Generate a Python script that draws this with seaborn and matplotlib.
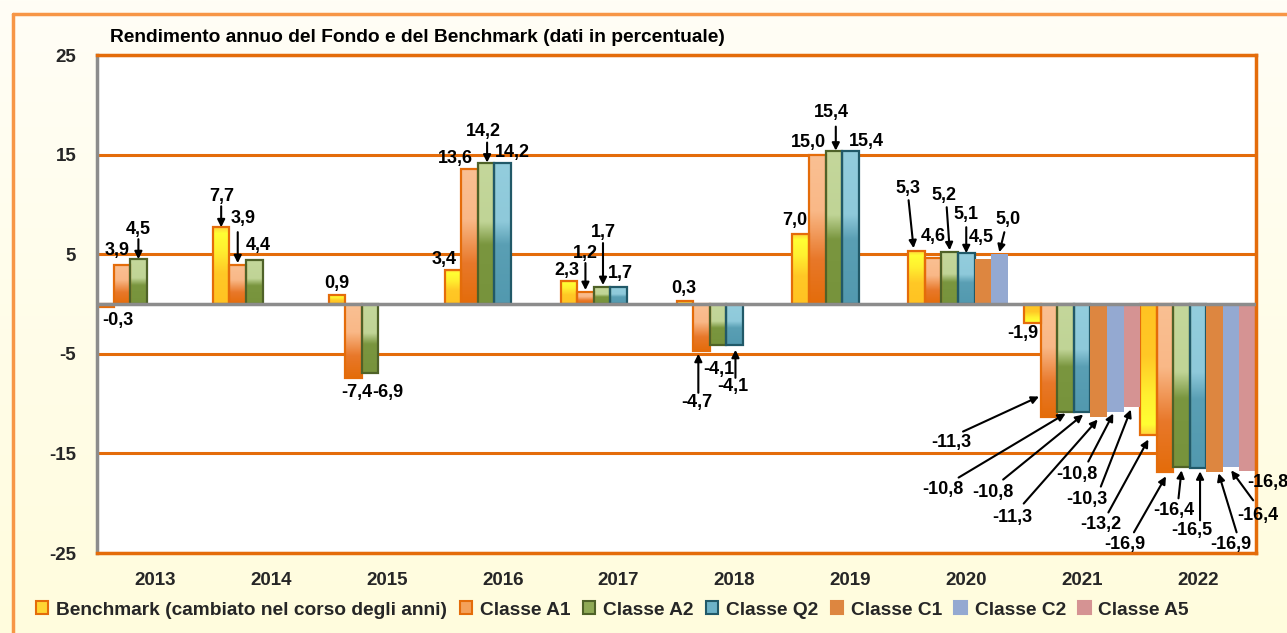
import numpy as np
import pandas as pd
import matplotlib
matplotlib.use("Agg")
import matplotlib.pyplot as plt
import seaborn as sns
from matplotlib.colors import to_rgb
from matplotlib.patches import Patch
from matplotlib.lines import Line2D

# ---------------- data ----------------
nan = np.nan
years = ["2013", "2014", "2015", "2016", "2017", "2018", "2019", "2020", "2021", "2022"]
series = ["Benchmark (cambiato nel corso degli anni)", "Classe A1", "Classe A2",
          "Classe Q2", "Classe C1", "Classe C2", "Classe A5"]
codes = ["B", "A1", "A2", "Q2", "C1", "C2", "A5"]
bench = [-0.3, 7.7, 0.9, 3.4, 2.3, 0.3, 7.0, 5.3, -1.9, -13.2]
a1 = [3.9, 3.9, -7.4, 13.6, 1.2, -4.7, 15.0, 4.6, -11.3, -16.9]
a2 = [4.5, 4.4, -6.9, 14.2, 1.7, -4.1, 15.4, 5.2, -10.8, -16.4]
q2 = [nan, nan, nan, 14.2, 1.7, -4.1, 15.4, 5.1, -10.8, -16.5]
c1 = [nan, nan, nan, nan, nan, nan, nan, 4.5, -11.3, -16.9]
c2 = [nan, nan, nan, nan, nan, nan, nan, 5.0, -10.8, -16.4]
a5 = [nan, nan, nan, nan, nan, nan, nan, nan, -10.3, -16.8]
title = "Rendimento annuo del Fondo e del Benchmark (dati in percentuale)"
yticks = [-25, -15, -5, 5, 15, 25]

# ---------------- style ----------------
ORANGE = "#E46C0A"
face = {"B": "#FFD633", "A1": "#F4A15A", "A2": "#8FAA55", "Q2": "#6DB3C8",
        "C1": "#DD8640", "C2": "#94A9D1", "A5": "#D59393"}
edge = {"B": ORANGE, "A1": ORANGE, "A2": "#4F6228", "Q2": "#215968",
        "C1": None, "C2": None, "A5": None}
# gradient stops (fraction from bar top, colour)
grads = {
    "B": [(0.0, "#FFD23C"), (0.08, "#FFFF33"), (0.3, "#FFF030"), (0.6, "#FFC826"), (1.0, "#FFC322")],
    "A1": [(0.0, "#FAC093"), (0.38, "#F9B887"), (0.7, "#E8782A"), (1.0, "#E46C0A")],
    "A2": [(0.0, "#C4D79B"), (0.42, "#C0D496"), (0.58, "#7A963F"), (1.0, "#77933C")],
    "Q2": [(0.0, "#93CDDD"), (0.42, "#8EC9DA"), (0.58, "#5A9FB4"), (1.0, "#5299AF")],
}

# annotation layout: (text dx, text dy, arrow (start dx, dy, tip dx, dy) or None), pixels from bar end
ann = {
    ("2013", "B"): (13, -14, None), ("2013", "A1"): (-5, 15, None),
    ("2013", "A2"): (0, 30, (0, 20, 0, 0)),
    ("2014", "B"): (1, 31, (0, 21, 0, 0)), ("2014", "A1"): (5, 47, (0, 33, 0, 2)),
    ("2014", "A2"): (4, 15, None),
    ("2015", "B"): (0, 12, None), ("2015", "A1"): (3, -15, None), ("2015", "A2"): (18, -20, None),
    ("2016", "B"): (-9, 11, None), ("2016", "A1"): (-14, 10, None),
    ("2016", "A2"): (-3, 31, (1, 20, 1, 0)), ("2016", "Q2"): (10, 10, None),
    ("2017", "B"): (-2, 11, None), ("2017", "A1"): (0, 39, (0, 29, 0, 2)),
    ("2017", "A2"): (1, 55, (1, 44, 1, 2)), ("2017", "Q2"): (2, 14, None),
    ("2018", "B"): (-1, 13, None), ("2018", "A1"): (-5, -52, (-3, -42, -3, -3)),
    ("2018", "A2"): (1, -25, None), ("2018", "Q2"): (-2, -42, (1, -33, 1, -5)),
    ("2019", "B"): (-6, 14, None), ("2019", "A1"): (-9, 12, None),
    ("2019", "A2"): (-2, 38, (2, 24, 2, 0)), ("2019", "Q2"): (16, 9, None),
    ("2020", "B"): (-9, 63, (-8, 51, -3, 3)), ("2020", "A1"): (0, 22, None),
    ("2020", "A2"): (-6, 57, (-3, 45, 0, 2)), ("2020", "Q2"): (0, 39, (0, 26, 0, 0)),
    ("2020", "C1"): (-2, 22, None), ("2020", "C2"): (9, 35, (5, 22, 0, 2)),
    ("2021", "B"): (-10, -11, None), ("2021", "A1"): (-98, -26, (-86, -15, -10, 20)),
    ("2021", "A2"): (-123, -78, (-107, -66, 0, -2)), ("2021", "Q2"): (-89, -81, (-79, -68, 1, -3)),
    ("2021", "C1"): (-86, -101, (-75, -87, -1, -3)), ("2021", "C2"): (-38, -63, (-27, -50, -2, -2)),
    ("2021", "A5"): (-45, -93, (-31, -80, -1, -3)),
    ("2022", "B"): (-48, -89, (-40, -77, 0, -4)), ("2022", "A1"): (-40, -72, (-31, -60, 1, -4)),
    ("2022", "A2"): (-8, -43, (-3, -31, 0, -3)), ("2022", "Q2"): (-6, -62, (2, -52, 2, -3)),
    ("2022", "C1"): (16, -72, (22, -60, 4, -1)), ("2022", "C2"): (27, -48, (22, -33, 0, -3)),
    ("2022", "A5"): (20, -11, None),
}

sns.set_theme(style="white")
plt.rcParams["font.family"] = ["Liberation Sans", "DejaVu Sans"]
plt.rcParams["font.weight"] = "bold"
plt.rcParams["axes.unicode_minus"] = False

rows = []
for s, vals in zip(series, [bench, a1, a2, q2, c1, c2, a5]):
    for y, v in zip(years, vals):
        if not np.isnan(v):
            rows.append((y, s, v))
df = pd.DataFrame(rows, columns=["Anno", "Serie", "Valore"])

W, H = 1287, 633
fig = plt.figure(figsize=(W / 100, H / 100), dpi=100)

# background gradient
bg = fig.add_axes([0, 0, 1, 1], zorder=-10)
c_top, c_bot = np.array(to_rgb("#FFFEF6")), np.array(to_rgb("#FFFCDD"))
t = np.linspace(0, 1, 256)[:, None, None]
bg.imshow(c_top + (c_bot - c_top) * t, aspect="auto", extent=[0, 1, 0, 1], origin="upper")
bg.set_axis_off()
# outer border (top + left)
fig.add_artist(Line2D([13 / W, 1.01], [1 - 14 / H, 1 - 14 / H], color="#F79646", lw=2.5))
fig.add_artist(Line2D([13 / W, 13 / W], [-0.01, 1 - 14 / H], color="#F79646", lw=2.5))

ax = fig.add_axes([97 / W, 1 - 553 / H, (1256 - 97) / W, (553 - 55) / H])
ax.set_facecolor("white")
sns.barplot(data=df, x="Anno", y="Valore", hue="Serie", order=years, hue_order=series,
            width=1.0, dodge=True, errorbar=None, palette=[face[c] for c in codes],
            saturation=1, legend=False, ax=ax)

ax.set_xlim(-0.5, len(years) - 0.5)
ax.set_ylim(-25, 25)
ax.set_yticks(yticks)
ax.set_axisbelow(True)
ax.grid(axis="y", color=ORANGE, lw=2.2)
ax.grid(axis="x", visible=False)
ax.set_xlabel("")
ax.set_ylabel("")
ax.tick_params(axis="y", length=0, pad=15, labelsize=13.5)
ax.tick_params(axis="x", length=0, pad=14, labelsize=13.5)
for lab in ax.get_xticklabels() + ax.get_yticklabels():
    lab.set_fontweight("bold")
for side in ["top", "right", "bottom"]:
    ax.spines[side].set_color(ORANGE)
    ax.spines[side].set_linewidth(2.5)
ax.spines["left"].set_color("#8C8C8C")
ax.spines["left"].set_linewidth(2.5)
ax.axhline(0, color="#8C8C8C", lw=2.5, zorder=4)

nser = len(series)


def gradient_image(stops, reverse, n=200):
    pos = np.array([p for p, _ in stops])
    cols = np.array([to_rgb(c) for _, c in stops])
    f = np.linspace(0, 1, n)
    if reverse:
        f = 1 - f
    img = np.stack([np.interp(f, pos, cols[:, j]) for j in range(3)], axis=-1)
    return img[:, None, :]


fig.canvas.draw()
bars_info = []
for cont in ax.containers:
    for bar in cont:
        x0, y0, w, h = bar.get_x(), bar.get_y(), bar.get_width(), bar.get_height()
        if np.isnan(h):
            continue
        xc = x0 + w / 2
        i = int(np.floor(xc + 0.5))
        k = int(round(((xc + 0.5) - i) * nser - 0.5))
        code = codes[k]
        ylo, yhi = min(y0, y0 + h), max(y0, y0 + h)
        val = yhi if yhi > 0 else ylo
        bars_info.append((i, code, xc, val))
        if code in grads:
            img = gradient_image(grads[code], reverse=(code == "B" and val < 0))
            im = ax.imshow(img, extent=[x0, x0 + w, ylo, yhi], aspect="auto",
                           origin="upper", zorder=1.5, interpolation="bilinear")
            im.set_clip_path(bar)
            bar.set_facecolor("none")
        if edge[code]:
            bar.set_edgecolor(edge[code])
            bar.set_linewidth(1.6)
        else:
            bar.set_linewidth(0)
        bar.set_zorder(2)

ax.set_xlim(-0.5, len(years) - 0.5)
ax.set_ylim(-25, 25)
ax.set_aspect("auto")
fig.canvas.draw()

arrowprops = dict(arrowstyle="-|>", color="black", lw=1.5, mutation_scale=11,
                  shrinkA=0, shrinkB=0)
for i, code, xc, val in bars_info:
    key = (years[i], code)
    if key not in ann:
        continue
    dx, dy, arrow = ann[key]
    px, py = ax.transData.transform((xc, val))
    label = f"{val:.1f}".replace(".", ",")
    fig.text((px + dx) / W, (py + dy) / H, label, ha="center", va="center",
             fontsize=13, fontweight="bold", color="black")
    if arrow:
        sx, sy, tx, ty = arrow
        ax.annotate("", xy=(px + tx, py + ty), xycoords="figure pixels",
                    xytext=(px + sx, py + sy), textcoords="figure pixels",
                    arrowprops=arrowprops, annotation_clip=False)

fig.text(110 / W, 1 - 38 / H, title, ha="left", va="center", fontsize=13.8,
         fontweight="bold", color="black")

handles = [Patch(facecolor=face[c], edgecolor=edge[c] if edge[c] else face[c], lw=1.5)
           for c in codes]
fig.legend(handles, series, loc="center left", bbox_to_anchor=(36 / W, 1 - 610 / H),
           ncol=7, frameon=False, handlelength=0.65, handleheight=0.65,
           handletextpad=0.4, columnspacing=0.65, borderaxespad=0, borderpad=0,
           prop={"weight": "bold", "size": 13.8})

fig.savefig("out.png", dpi=100)
